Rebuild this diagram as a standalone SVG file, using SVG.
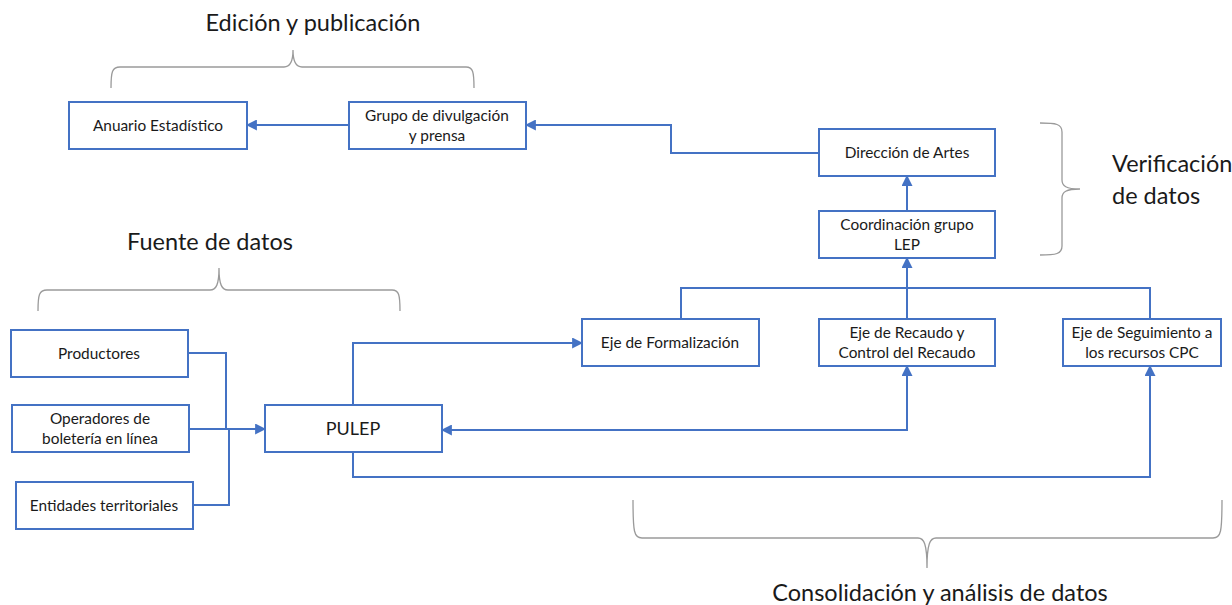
<svg xmlns="http://www.w3.org/2000/svg" width="1232" height="605" viewBox="0 0 1232 605">
<style>
.box{fill:#fff;stroke:#4472C4;stroke-width:2}
.t{font-family:Lato,"Open Sans","Liberation Sans",sans-serif;font-size:15.4px;fill:#1a1a1a;text-anchor:middle}
.h{font-family:Lato,"Open Sans","Liberation Sans",sans-serif;font-size:23.5px;fill:#1a1a1a}
.c{fill:none;stroke:#4472C4;stroke-width:2}
.br{fill:none;stroke:#9a9a9a;stroke-width:1.3}
</style>
<defs>
<marker id="ah" viewBox="0 0 10 10" refX="9" refY="5" markerWidth="5.5" markerHeight="5.5" orient="auto-start-reverse" markerUnits="strokeWidth">
<path d="M0,0 L10,5 L0,10 z" fill="#4472C4"/>
</marker>
</defs>
<rect width="1232" height="605" fill="#fff"/>

<g id="braces">
<path class="br" d="M111,88 C111,72 112,67 120,67 L284,67 C290,67 293,62 293,50 C293,62 296,67 302,67 L466,67 C473,67 474,72 474,88"/>
<path class="br" d="M38,311 C38,295 39,290 47,290 L210,290 C216,290 219,285 219,268 C219,285 222,290 228,290 L392,290 C399,290 400,295 400,311"/>
<path class="br" d="M1040,123 C1056,123 1062,124 1062,132 L1062,180 C1062,186 1066,189 1080,189 C1066,189 1062,192 1062,198 L1062,246 C1062,254 1056,255 1040,255"/>
<path class="br" d="M633,500 C633,532 634,538 642,538 L918,538 C924,538 927,544 927,568 C927,544 930,538 936,538 L1213,538 C1221,538 1222,532 1222,500"/>
</g>

<g id="titles">
<text class="h" x="313" y="31" text-anchor="middle">Edición y publicación</text>
<text class="h" x="210" y="250" text-anchor="middle">Fuente de datos</text>
<text class="h" x="1112" y="172">Verificación</text>
<text class="h" x="1112" y="204">de datos</text>
<text class="h" x="940" y="601" text-anchor="middle">Consolidación y análisis de datos</text>
</g>

<g id="connectors">
<path class="c" d="M349,125 L247,125" marker-end="url(#ah)"/>
<path class="c" d="M819,153 L671,153 L671,125 L526,125" marker-end="url(#ah)"/>
<path class="c" d="M907,211 L907,176" marker-end="url(#ah)"/>
<path class="c" d="M907,319 L907,258" marker-end="url(#ah)"/>
<path class="c" d="M681,319 L681,288 L1150,288 L1150,319"/>
<path class="c" d="M188,353 L226,353 L226,429"/>
<path class="c" d="M193,505 L229,505 L229,429"/>
<path class="c" d="M189,429 L265,429" marker-end="url(#ah)"/>
<path class="c" d="M353,405 L353,343 L582,343" marker-end="url(#ah)"/>
<path class="c" d="M907,366 L907,430 L442,430" marker-start="url(#ah)" marker-end="url(#ah)"/>
<path class="c" d="M353,452 L353,477 L1150,477 L1150,366" marker-end="url(#ah)"/>
</g>

<g id="anuario"><rect class="box" x="69" y="102" width="178" height="47"/><text class="t" x="158" y="131">Anuario Estadístico</text></g>
<g id="grupo"><rect class="box" x="349" y="102" width="177" height="47"/><text class="t" x="437" y="121">Grupo de divulgación</text><text class="t" x="437" y="141">y prensa</text></g>
<g id="direccion"><rect class="box" x="819" y="129" width="176" height="47"/><text class="t" x="907" y="158">Dirección de Artes</text></g>
<g id="coordinacion"><rect class="box" x="819" y="211" width="176" height="47"/><text class="t" x="907" y="230">Coordinación grupo</text><text class="t" x="907" y="250">LEP</text></g>
<g id="formalizacion"><rect class="box" x="582" y="319" width="177" height="47"/><text class="t" x="670" y="348">Eje de Formalización</text></g>
<g id="recaudo"><rect class="box" x="819" y="319" width="176" height="47"/><text class="t" x="907" y="338">Eje de Recaudo y</text><text class="t" x="907" y="358">Control del Recaudo</text></g>
<g id="seguimiento"><rect class="box" x="1063" y="319" width="158" height="47"/><text class="t" x="1142" y="338">Eje de Seguimiento a</text><text class="t" x="1142" y="358">los recursos CPC</text></g>
<g id="productores"><rect class="box" x="11" y="330" width="177" height="47"/><text class="t" x="99" y="359">Productores</text></g>
<g id="operadores"><rect class="box" x="12" y="405" width="177" height="47"/><text class="t" x="100" y="424">Operadores de</text><text class="t" x="100" y="444">boletería en línea</text></g>
<g id="entidades"><rect class="box" x="16" y="482" width="177" height="47"/><text class="t" x="104" y="511">Entidades territoriales</text></g>
<g id="pulep"><rect class="box" x="265" y="405" width="177" height="47"/><text class="t" x="353" y="435" style="font-size:18px">PULEP</text></g>
</svg>
